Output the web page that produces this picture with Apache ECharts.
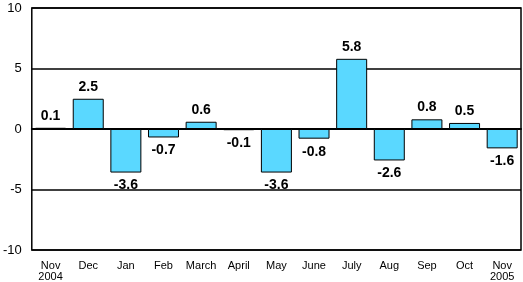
<!DOCTYPE html>
<html><head><meta charset="utf-8">
<script src="https://cdn.jsdelivr.net/npm/echarts@6/dist/echarts.min.js"></script>
<style>html,body{margin:0;padding:0;background:#fff}#c{width:523px;height:282px}</style>
</head><body><div id="c"></div>
<script>
const categories = ["Nov\n2004","Dec","Jan","Feb","March","April","May","June","July","Aug","Sep","Oct","Nov\n2005"];
const values = [0.1, 2.5, -3.6, -0.7, 0.6, -0.1, -3.6, -0.8, 5.8, -2.6, 0.8, 0.5, -1.6];
const yTicks = [-10, -5, 0, 5, 10];

const chart = echarts.init(document.getElementById('c'));
chart.setOption({
  animation: false,
  grid: {left: 31, right: 2, top: 8, bottom: 32, show: true, borderColor: '#000', borderWidth: 1.5},
  xAxis: {
    type: 'category', data: categories,
    axisLine: {show: true, onZero: true, lineStyle: {color: '#000', width: 2}}, axisTick: {show: false},
    axisLabel: {color: '#000', fontFamily: 'Arial, Liberation Sans', fontSize: 11, lineHeight: 11, margin: 10, interval: 0}
  },
  yAxis: {
    type: 'value', min: yTicks[0], max: yTicks[yTicks.length-1], interval: 5,
    axisLine: {show: false}, axisTick: {show: false},
    splitLine: {lineStyle: {color: '#000', width: 1.5}},
    axisLabel: {color: '#000', fontFamily: 'Arial, Liberation Sans', fontSize: 13, margin: 10}
  },
  series: [{
    type: 'bar', barWidth: 31,
    data: values.map(v => ({
      value: v,
      label: {position: v >= 0 ? 'top' : 'bottom', distance: v >= 0 ? 5 : 6}
    })),
    itemStyle: {color: '#5AD8FF', borderColor: '#000', borderWidth: 1},
    label: {show: true, color: '#000', fontWeight: 'bold', fontFamily: 'Arial, Liberation Sans', fontSize: 14,
      formatter: p => p.value.toFixed(1)}
  }]
});
</script></body></html>
